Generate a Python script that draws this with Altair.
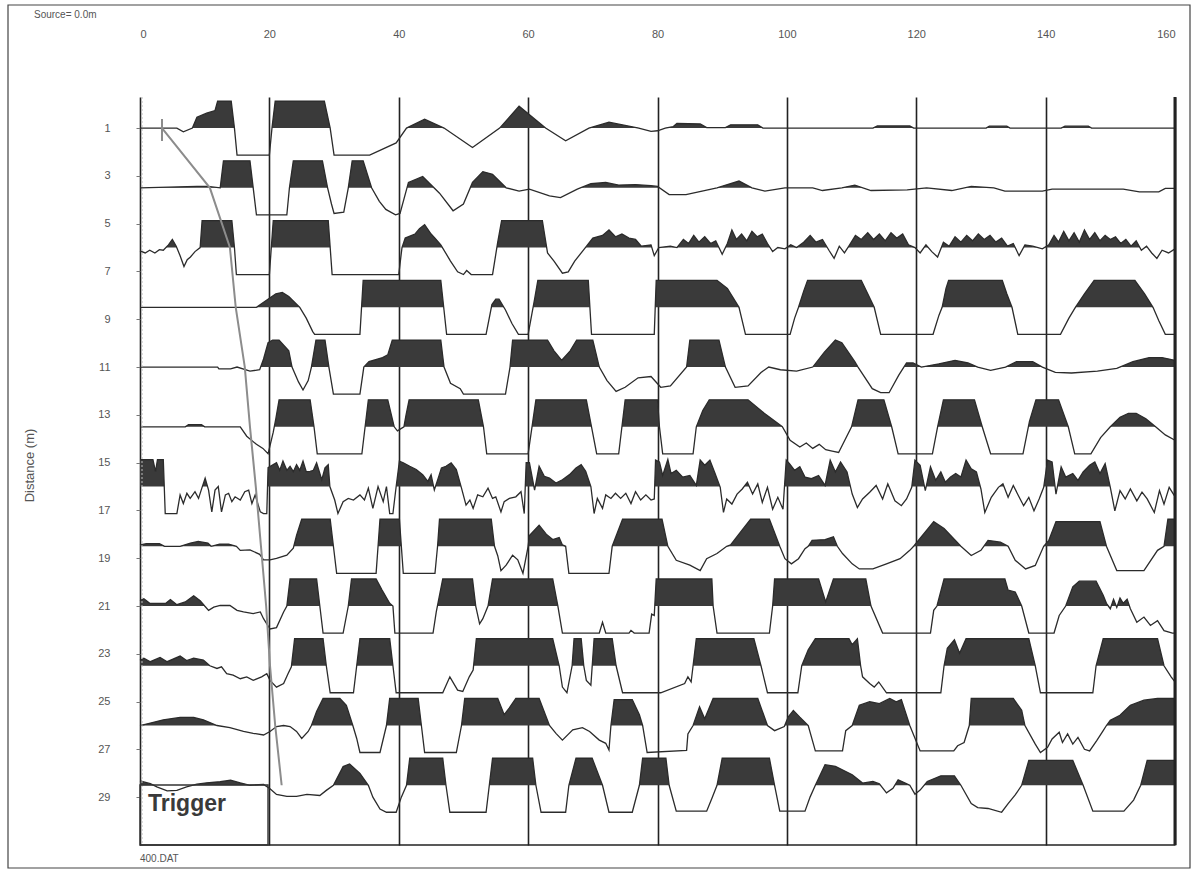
import altair as alt
import pandas as pd

# ---------------- data read from the record ----------------
TIME_TICKS = [0, 20, 40, 60, 80, 100, 120, 140, 160]
DIST_TICKS = [1, 3, 5, 7, 9, 11, 13, 15, 17, 19, 21, 23, 25, 27, 29]
OFFSETS = [1, 3.5, 6, 8.5, 11, 13.5, 16, 18.5, 21, 23.5, 26, 28.5]

# (time ms, normalised amplitude; +/-1 = clip level)
TRACE_01 = [(0, 0), (5.7, 0), (6.7, -0.14), (8.1, 0), (8.8, 0.4), (10.3, 0.55), (11.6, 0.65), (12.0, 1), (14.1, 1),
            (14.6, 0), (15.0, -1), (20.0, -1), (20.4, 0), (20.9, 1), (28.5, 1), (29.4, 0), (30.0, -1), (35.5, -1),
            (39.6, -0.55), (41.2, 0), (44.0, 0.33), (47.0, 0), (51.4, -0.72), (55.6, 0), (58.6, 0.81), (62.7, 0),
            (65.8, -0.47), (69.4, 0), (72.5, 0.22), (77.1, 0), (79.0, -0.12), (80.0, -0.1), (81.2, 0), (82.4, 0.05),
            (83.0, 0.17), (86.6, 0.15), (87.6, 0.02), (90.5, 0.02), (91.3, 0.12), (95.5, 0.12), (96.3, 0), (113.3, 0),
            (114.0, 0.08), (119.0, 0.08), (119.6, 0), (130.8, 0), (131.3, 0.07), (134.0, 0.07), (134.5, 0),
            (142.4, 0), (143.0, 0.07), (146.6, 0.07), (147.1, 0), (160, 0)]

TRACE_02 = [(0, 0), (8.8, 0.05), (10.5, 0.05), (12.4, 0), (12.9, 1), (17.0, 1), (17.5, 0), (18.0, -1), (22.7, -1),
            (23.1, 0), (23.7, 1), (28.2, 1), (29.0, 0), (29.6, -0.6), (30.0, -0.95), (31.5, -0.9), (32.2, 0),
            (32.8, 1), (34.5, 1), (35.8, 0), (37.0, -0.5), (38.0, -0.8), (39.5, -1), (40.2, -0.95), (41.5, 0.2),
            (43.7, 0.42), (46.3, -0.2), (48.4, -0.85), (50.0, -0.6), (51.4, 0.2), (53.0, 0.6), (54.5, 0.5),
            (56.6, 0), (58.6, -0.12), (60.2, -0.05), (63.3, -0.3), (65.0, -0.36), (67.6, -0.05), (69.7, 0.15),
            (72.0, 0.2), (74.0, 0.1), (76.6, 0.12), (79.0, 0.08), (80.0, 0.05), (81.8, -0.25), (84.4, -0.25),
            (89.2, 0), (92.6, 0.25), (94.6, 0), (96.6, -0.12), (99.7, 0), (104.0, 0), (105.5, -0.1), (108.5, 0),
            (110.5, 0.1), (113.0, -0.1), (118.6, -0.08), (121.6, 0), (125.5, -0.1), (128.5, 0.05), (132.0, 0),
            (133.7, -0.12), (139.5, -0.12), (141.0, -0.05), (152.0, -0.05), (154.5, -0.15), (157.5, -0.15),
            (158.5, -0.02), (160, -0.02)]

TRACE_03 = [(0, -0.12), (0.8, -0.2), (1.5, -0.1), (2.3, -0.2), (3.0, -0.08), (3.6, -0.1), (4.4, 0.1), (5.0, 0.3),
            (5.6, 0.05), (6.2, -0.3), (6.8, -0.7), (7.3, -0.45), (7.8, -0.35), (8.5, -0.15), (9.3, 0), (9.6, 1),
            (14.2, 1), (14.6, 0), (14.9, -1), (20.0, -1), (20.3, 0), (20.6, 1), (29.1, 1), (29.4, 0), (29.7, -1),
            (40.0, -1), (40.5, 0), (41.0, 0.35), (42.5, 0.5), (43.2, 0.7), (44.0, 0.85), (45.0, 0.5), (45.6, 0.35),
            (46.5, 0.1), (48.0, -0.5), (49.1, -0.9), (50.0, -1), (50.5, -0.85), (51.2, -1), (54.5, -1), (55.3, 0.2),
            (55.9, 1), (62.2, 1), (63.0, -0.2), (64.0, -0.5), (65.3, -0.95), (66.2, -0.9), (67.2, -0.5),
            (68.7, -0.05), (70.0, 0.35), (71.5, 0.45), (72.5, 0.65), (73.5, 0.4), (74.5, 0.5), (75.6, 0.35),
            (76.6, 0.3), (77.5, 0.05), (79.0, 0.1), (79.5, -0.3), (80.2, 0.0), (82.0, 0.05), (83.0, 0.0),
            (84.0, 0.3), (84.8, 0.15), (85.6, 0.45), (86.4, 0.2), (87.3, 0.4), (88.2, 0.15), (89.0, 0.25),
            (90.0, -0.25), (90.8, 0.15), (91.5, 0.65), (92.2, 0.3), (93.0, 0.5), (93.8, 0.25), (94.6, 0.6),
            (95.4, 0.4), (96.2, 0.5), (97.0, 0.15), (97.8, -0.15), (98.6, 0), (99.7, -0.05), (100.6, 0.1),
            (101.5, 0), (102.6, 0.2), (103.6, 0.45), (104.5, 0.2), (105.5, 0.3), (106.5, -0.1), (107.3, -0.4),
            (108.1, 0.05), (108.9, -0.2), (109.7, 0.1), (110.6, 0.45), (111.5, 0.3), (112.5, 0.55), (113.4, 0.3),
            (114.3, 0.5), (115.2, 0.25), (116.1, 0.55), (117.0, 0.35), (117.9, 0.5), (118.8, 0.1), (119.8, 0),
            (120.6, -0.2), (121.5, 0.1), (122.4, -0.15), (123.3, -0.35), (124.2, 0.2), (125.1, 0.05), (126.0, 0.4),
            (126.9, 0.2), (127.8, 0.45), (128.7, 0.25), (129.6, 0.5), (130.5, 0.3), (131.4, 0.45), (132.3, 0.2),
            (133.2, 0.35), (134.1, 0.05), (135.0, 0.15), (135.9, -0.3), (136.8, 0.1), (138.0, 0.05), (139.5, -0.05),
            (140.5, 0.1), (141.3, 0.45), (142.0, 0.2), (142.8, 0.6), (143.6, 0.25), (144.4, 0.55), (145.2, 0.2),
            (146.0, 0.65), (146.8, 0.3), (147.6, 0.55), (148.4, 0.25), (149.2, 0.45), (150.0, 0.3), (150.8, 0.4),
            (151.6, 0.15), (152.4, 0.3), (153.2, 0.05), (154.0, 0.25), (154.8, -0.1), (155.6, 0.05), (156.4, -0.2),
            (157.2, -0.4), (158.0, -0.1), (159.0, -0.2), (160, -0.05)]

TRACE_04 = [(0, 0), (18.0, 0), (19.5, 0.25), (21.0, 0.5), (22.0, 0.55), (23.0, 0.4), (24.7, 0), (25.7, -0.4),
            (26.7, -0.9), (27.0, -1), (34.0, -1), (34.5, 1), (46.5, 1), (47.4, -1), (53.5, -1), (54.4, 0.1),
            (55.0, 0.3), (55.5, 0.3), (56.5, -0.1), (57.5, -0.6), (58.5, -1), (60.0, -1), (61.0, 0.3), (61.5, 1),
            (69.3, 1), (69.8, -1), (79.0, -1), (79.5, -1), (79.8, 1), (89.2, 1), (90.8, 0.7), (92.6, 0), (93.6, -1),
            (100.5, -1), (101.2, -0.4), (101.8, 0), (102.6, 0.6), (103.2, 1), (111.5, 1), (112.5, 0.5), (113.5, 0),
            (114.5, -1), (122.6, -1), (123.5, -0.3), (124.0, 0), (124.6, 0.7), (125.0, 1), (133.3, 1), (134.0, 0.5),
            (134.8, 0), (135.7, -1), (142.3, -1), (143.6, -0.4), (144.6, 0), (146.0, 0.5), (147.5, 1), (153.8, 1),
            (155.3, 0.5), (156.6, 0), (157.5, -0.5), (158.5, -1), (160, -1)]

TRACE_05 = [(0, 0), (12.0, 0), (12.2, -0.07), (14.0, -0.07), (15.0, 0), (17.0, -0.15), (18.5, -0.1), (19.1, 0.3),
            (19.8, 0.9), (20.5, 1), (21.5, 1), (23.0, 0.6), (23.5, 0), (24.5, -0.55), (25.2, -0.85), (26.0, -0.5),
            (26.5, 0), (27.2, 1), (28.6, 1), (29.2, 0), (29.9, -1), (34.0, -1), (34.6, 0), (35.4, 0.2), (37.5, 0.35),
            (38.3, 0.45), (39.0, 1), (46.5, 1), (47.0, 0), (48.0, -0.6), (49.5, -0.8), (50.0, -1), (56.5, -1),
            (57.2, 0), (57.6, 1), (63.0, 1), (64.0, 0.6), (65.2, 0.25), (66.5, 0.6), (67.5, 1), (70.0, 1), (71.0, 0),
            (72.2, -0.5), (73.6, -0.9), (75.0, -0.75), (77.0, -0.4), (79.0, -0.35), (80.5, -0.75), (82.0, -0.7),
            (84.5, 0), (85.0, 1), (89.5, 1), (90.5, 0), (92.0, -0.75), (94.0, -0.7), (96.0, -0.2), (97.2, 0),
            (99.0, -0.1), (101.5, -0.15), (104.0, 0), (105.8, 0.55), (107.5, 1), (108.5, 0.9), (110.5, 0.2),
            (111.0, 0), (113.2, -0.8), (114.5, -0.95), (115.8, -0.95), (117.3, -0.3), (118.5, 0.15), (119.5, 0.15),
            (120.8, 0), (123.5, 0.12), (126.0, 0.25), (128.0, 0.15), (129.5, 0), (131.5, -0.12), (133.8, 0),
            (135.5, 0.2), (138.0, 0.2), (139.5, 0), (141.5, -0.2), (144.0, -0.22), (148.0, -0.15), (151.0, -0.05),
            (153.5, 0.2), (156.0, 0.35), (158.0, 0.35), (160, 0.25)]

TRACE_06 = [(0, 0), (7.0, 0), (7.5, 0.08), (9.5, 0.08), (10.0, 0), (15.5, 0), (16.5, -0.35), (18.0, -0.65),
            (19.0, -0.8), (19.8, -1), (20.6, -0.2), (21.0, 0.3), (21.5, 1), (26.3, 1), (26.9, 0), (27.4, -1),
            (34.3, -1), (34.8, 0), (35.3, 1), (38.3, 1), (39.3, 0), (39.8, -0.15), (40.8, 0), (41.1, 0.4), (41.6, 1),
            (52.3, 1), (53.1, 0), (53.6, -1), (60.0, -1), (60.6, 0), (61.2, 1), (69.0, 1), (69.8, 0), (70.6, -1),
            (74.0, -1), (74.5, 0), (75.0, 1), (80.0, 1), (80.3, 0), (80.8, -1), (85.5, -1), (86.0, 0), (87.0, 0.6),
            (88.0, 1), (94.0, 1), (96.5, 0.5), (99.3, 0), (100.5, -0.5), (102.0, -0.75), (103.0, -0.6),
            (104.0, -0.8), (105.0, -0.65), (106.0, -0.85), (107.0, -0.9), (108.0, -0.95), (110.0, 0), (111.0, 1),
            (115.0, 1), (116.2, 0), (117.2, -1), (122.5, -1), (123.3, 0), (124.2, 1), (129.0, 1), (130.2, 0),
            (131.5, -1), (136.5, -1), (137.5, 0.2), (138.5, 1), (142.0, 1), (143.5, 0), (144.5, -1), (147.0, -1),
            (148.5, -0.4), (150.0, 0), (151.5, 0.35), (152.8, 0.5), (154.0, 0.5), (155.5, 0.3), (157.0, 0),
            (158.5, -0.3), (160, -0.5)]

TRACE_07 = [(0, 1.0), (2.0, 1.0), (2.4, 0.55), (2.7, 1.0), (3.6, 1.0), (3.9, -1.0), (5.7, -1.0), (6.2, -0.31),
            (6.7, -0.63), (7.25, -0.25), (7.76, -0.44), (8.5, -0.19), (9.05, -0.44), (9.56, -0.06), (10.07, 0.31),
            (10.6, -0.13), (11.1, -0.94), (11.6, -0.13), (12.1, 0.0), (12.6, -0.94), (13.2, -0.31), (13.7, -0.25),
            (14.2, -0.56), (14.7, -0.38), (15.5, -0.5), (16.2, -0.19), (16.8, -0.13), (17.3, -0.63), (17.8, -0.31),
            (18.6, -0.94), (19.1, -1), (19.6, -1), (19.8, 0.7), (21.1, 0.88), (21.6, 0.6), (22.1, 0.94), (22.7, 0.6),
            (23.2, 0.75), (23.7, 0.55), (24.2, 0.81), (24.7, 0.6), (25.2, 0.94), (25.7, 0.55), (26.3, 0.56),
            (26.8, 0.6), (27.3, 0.88), (28.1, 0.25), (28.6, 0.69), (29.1, 0.81), (29.35, 0), (30.1, -0.5),
            (30.6, -1), (31.4, -0.56), (32.2, -0.44), (33.0, -0.5), (34.0, -0.31), (34.7, -0.5), (35.3, -0.06),
            (36.0, -0.81), (36.8, 0.0), (37.6, -0.56), (38.1, 0.0), (38.6, -1), (39.1, -1), (39.6, 0), (40.1, 0.94),
            (40.7, 0.88), (41.7, 0.75), (42.7, 0.63), (43.7, 0.44), (44.5, 0.19), (45.0, 0.44), (45.5, -0.13),
            (46.1, 0.31), (46.6, 0.69), (47.3, 0.75), (48.1, 0.88), (48.9, 0.63), (49.7, -0.06), (50.4, -0.69),
            (51.0, -0.5), (51.5, -0.81), (52.2, -0.31), (53.0, -0.38), (53.8, -0.06), (54.5, -0.44), (55.0, -0.38),
            (55.8, -0.94), (56.3, -0.56), (57.1, -0.44), (58.1, -0.38), (58.9, -0.19), (59.4, -1), (59.7, 0.88),
            (60.2, 0.88), (61.0, -0.13), (61.7, 0.75), (62.5, 0.38), (63.3, 0.31), (64.3, 0.13), (65.3, 0.25),
            (66.4, 0.44), (67.4, 0.69), (68.2, 0.81), (68.9, 0.56), (69.7, 0.0), (70.2, -1), (70.7, -0.44),
            (71.5, -0.81), (72.0, -0.31), (72.8, -0.44), (73.5, -0.25), (74.3, -0.44), (75.1, -0.25), (75.9, -0.63),
            (76.6, -0.19), (77.4, -0.5), (78.2, -0.31), (79.0, -0.5), (79.5, -0.46), (79.7, 0.98), (80.3, 0.91),
            (80.8, 0.41), (81.6, 1.0), (82.1, 0.48), (82.9, 0.6), (83.9, 0.35), (85.0, 0.41), (86.0, 0.04),
            (86.6, 0.98), (87.3, 0.79), (88.1, 0.98), (88.9, 0.48), (89.7, -0.03), (90.2, -0.96), (90.7, -0.46),
            (91.5, -0.65), (92.3, -0.28), (93.1, -0.09), (93.9, 0.16), (94.7, -0.28), (95.5, 0.1), (96.2, -0.59),
            (97.0, -0.03), (97.8, -0.84), (98.6, -0.4), (99.4, -0.84), (99.9, 0.98), (100.4, 0.85), (101.2, 0.6),
            (102.0, 0.73), (102.8, 0.35), (103.8, 0.29), (104.9, 0.41), (105.9, 0.04), (106.7, 0.98), (107.5, 0.54),
            (108.3, 0.91), (109.3, 0.54), (110.1, -0.28), (110.9, -0.78), (111.7, -0.46), (112.8, -0.21),
            (113.8, 0.04), (114.8, -0.46), (115.6, 0.1), (116.7, -0.53), (117.7, -0.71), (118.5, -0.46),
            (119.3, -0.03), (119.8, 0.98), (120.6, 0.79), (121.4, -0.15), (122.2, 0.73), (123.0, 0.23), (123.8, 0.54),
            (124.5, 0.16), (125.3, 0.35), (126.1, 0.48), (126.9, 0.35), (127.7, 0.98), (128.5, 0.66), (129.3, 0.54),
            (130.0, -0.09), (130.6, -0.96), (131.6, -0.4), (132.7, -0.03), (133.4, 0.1), (134.2, -0.4), (135.0, 0.04),
            (135.8, -0.34), (136.6, -0.71), (137.4, -0.4), (138.2, -0.9), (139.0, -0.46), (139.7, -0.03),
            (140.3, 0.98), (141.0, 0.91), (141.6, -0.28), (142.4, 0.73), (143.1, 0.35), (144.2, 0.48), (145.0, 0.23),
            (145.8, 0.54), (146.8, 0.79), (147.6, 0.91), (148.4, 0.48), (149.2, 0.85), (150.0, -0.03), (150.7, -0.9),
            (151.5, -0.15), (152.3, -0.46), (153.1, -0.09), (154.1, -0.53), (154.9, -0.21), (155.7, -0.46),
            (156.8, -0.96), (157.6, -0.15), (158.3, -0.65), (159.1, -0.03), (159.9, -0.34)]

TRACE_08 = [(0, 0.05), (1.0, 0.1), (3.0, 0.1), (3.8, 0), (6.2, 0), (7.8, 0.12), (9.0, 0.18), (10.5, 0.12), (11.0, 0),
            (12.3, 0.08), (13.7, 0.08), (14.9, 0), (15.5, -0.15), (17.0, -0.13), (18.5, -0.3), (19.1, -0.5),
            (20.1, -0.5), (21.1, -0.45), (22.7, -0.33), (23.7, -0.07), (24.2, 0.4), (25.0, 1), (29.4, 1), (29.9, 0),
            (30.4, -1), (36.5, -1), (36.8, 0), (37.1, 1), (40.1, 1), (40.4, 0), (40.7, -1), (45.6, -1), (46.0, 0),
            (46.3, 1), (54.3, 1), (54.8, 0), (55.3, -0.35), (55.8, -0.9), (56.6, -0.7), (57.6, -0.33), (58.4, -0.5),
            (59.2, -1), (60.0, 0), (60.2, 0.4), (61.7, 0.78), (62.8, 0.45), (63.8, 0.25), (64.8, 0.32), (65.3, 0.05),
            (65.8, 0), (66.3, -1), (72.5, -1), (73.0, 0), (74.6, 1), (80.7, 1), (81.6, 0), (82.9, -0.52),
            (85.0, -0.7), (86.6, -0.9), (87.6, -0.46), (89.2, -0.27), (90.7, 0), (91.3, 0.05), (93.4, 0.7),
            (94.4, 1), (97.3, 1), (98.9, 0), (99.7, -0.46), (100.7, -0.65), (101.8, -0.46), (102.8, -0.09),
            (103.3, 0), (103.9, 0.22), (105.9, 0.25), (107.2, 0.35), (107.8, 0), (108.6, -0.27), (110.1, -0.65),
            (111.2, -0.84), (113.3, -0.84), (115.4, -0.65), (117.5, -0.46), (119.0, -0.15), (119.6, 0), (122.7, 0.91),
            (124.3, 0.66), (126.9, 0), (128.5, -0.34), (130.0, -0.15), (131.1, 0.22), (133.0, 0.15), (134.2, 0),
            (135.3, -0.52), (136.9, -0.84), (138.4, -0.71), (139.7, 0), (140.5, 0.22), (141.6, 0.91), (148.4, 0.91),
            (149.4, 0), (151.0, -0.9), (155.2, -0.9), (157.3, -0.15), (158.3, 0), (158.9, 1), (160, 1)]

TRACE_09 = [(0, 0.2), (0.6, 0.27), (1.5, 0.1), (4.0, 0.1), (4.7, 0.24), (5.7, 0.05), (7.0, 0.15), (8.3, 0.38),
            (9.3, 0.2), (10.0, 0), (10.6, -0.16), (11.4, -0.04), (12.4, 0.02), (13.9, 0.02), (15.0, -0.16),
            (16.0, -0.22), (17.5, -0.28), (18.6, -0.22), (19.1, -0.47), (19.6, -0.66), (20.1, -0.85), (21.1, -0.8),
            (22.2, -0.22), (22.7, 0), (23.2, 1), (27.3, 1), (27.8, 0), (28.3, -1), (31.4, -1), (32.2, 0), (32.7, 1),
            (36.5, 1), (37.4, 0.6), (38.6, 0.1), (39.1, 0), (39.4, -1), (45.3, -1), (45.8, -0.22), (46.8, 1),
            (51.4, 1), (51.9, 0), (52.5, -0.66), (53.0, -0.47), (53.8, 0), (54.5, 1), (63.8, 1), (64.6, 0),
            (65.3, -1), (71.0, -1), (71.5, -0.6), (72.0, -1), (75.6, -1), (75.9, -0.9), (76.4, -1), (78.7, -1),
            (79.1, -0.3), (79.5, -0.35), (79.8, 1), (88.4, 1), (88.6, 0), (89.2, -1), (97.3, -1), (97.8, 0),
            (98.1, 1), (104.9, 1), (106.0, 0.15), (107.2, 1), (112.2, 1), (113.0, 0), (114.8, -1), (122.2, -1),
            (122.7, -0.16), (123.2, 0), (124.3, 1), (133.7, 1), (134.2, 0.59), (135.3, 0.52), (136.3, 0),
            (137.4, -1), (141.3, -1), (142.1, -0.35), (143.1, 0), (144.2, 0.71), (145.2, 0.92), (147.8, 0.92),
            (148.9, 0.4), (149.4, 0.1), (150.0, -0.1), (150.5, 0.25), (151.0, -0.05), (151.5, 0.3), (152.0, 0.1),
            (152.6, 0.25), (153.1, -0.1), (154.1, -0.6), (155.2, -0.41), (156.2, -0.72), (157.3, -0.54),
            (158.3, -0.91), (159.6, -1), (160, -1)]

TRACE_10 = [(0, 0.2), (0.6, 0.28), (1.6, 0.15), (3.1, 0.31), (4.2, 0.15), (6.2, 0.36), (7.2, 0.19), (8.3, 0.28),
            (9.8, 0.21), (10.8, 0), (11.9, -0.1), (12.6, -0.04), (13.4, -0.29), (14.4, -0.35), (15.5, -0.48),
            (16.5, -0.41), (17.5, -0.54), (18.8, -0.41), (19.6, -0.29), (20.1, -0.54), (21.1, -0.79), (22.2, -0.66),
            (22.9, -0.29), (23.4, -0.04), (23.9, 1), (28.3, 1), (28.8, 0), (29.4, -1), (33.0, -1), (33.5, 0),
            (34.0, 1), (38.6, 1), (39.1, 0), (39.6, -1), (46.8, -1), (47.9, -0.41), (49.1, -0.9), (49.9, -0.95),
            (50.9, -0.41), (51.5, -0.16), (52.0, 1), (63.8, 1), (64.8, 0), (65.3, -0.79), (66.0, -1), (66.8, 0),
            (67.1, 1), (68.2, 1), (68.6, 0), (69.0, -0.54), (69.7, -0.72), (70.2, 1), (73.0, 1), (73.6, 0),
            (74.6, -1), (80.5, -1), (84.2, -0.66), (84.7, -0.41), (85.2, -0.6), (85.5, 0), (86.0, 1), (94.9, 1),
            (96.0, 0), (97.0, -1), (101.7, -1), (102.3, 0), (103.3, 0.59), (104.4, 1), (109.6, 1), (110.1, 0.78),
            (110.9, 1), (111.4, 0), (111.7, -0.41), (112.8, -0.66), (113.5, -0.79), (114.2, -0.6), (115.4, -1),
            (123.8, -1), (124.3, 0), (124.8, 0.65), (125.9, 0.96), (126.7, 0.46), (127.7, 1), (137.4, 1),
            (138.4, 0), (139.2, -1), (147.3, -1), (147.8, 0), (148.9, 1), (157.3, 1), (158.3, 0), (159.4, -0.41),
            (160, -0.6)]

TRACE_11 = [(0, 0), (1.6, 0.09), (3.6, 0.21), (6.2, 0.3), (8.3, 0.3), (9.8, 0.21), (11.9, 0), (13.9, -0.08),
            (16.0, -0.22), (17.5, -0.29), (19.1, -0.35), (20.1, -0.22), (21.1, -0.04), (22.2, 0), (23.2, -0.04),
            (24.2, -0.22), (25.0, -0.48), (26.0, -0.22), (26.5, 0), (27.3, 0.52), (28.3, 1), (30.9, 1), (31.9, 0.75),
            (32.9, 0), (33.5, -0.48), (34.0, -1), (37.1, -1), (38.1, 0), (38.6, 1), (43.0, 1), (43.5, 0), (44.0, -1),
            (48.9, -1), (49.7, 0), (50.2, 1), (55.3, 1), (56.3, 0.4), (57.1, 0.65), (58.1, 1), (61.7, 1), (63.3, 0),
            (64.3, -0.29), (65.3, -0.54), (66.9, -0.16), (68.4, -0.08), (69.5, -0.22), (71.0, -0.54), (72.0, -0.66),
            (72.5, -0.91), (72.8, 0), (73.3, 0.96), (76.1, 0.96), (77.2, 0.4), (77.7, 0), (78.4, -1), (84.5, -0.92),
            (84.7, -0.31), (85.5, 0), (86.5, 0.69), (87.3, 0.25), (88.6, 1), (95.5, 1), (97.0, 0), (98.1, -0.19),
            (99.6, -0.04), (100.2, 0.31), (101.0, 0.56), (102.0, 0.31), (103.3, 0), (104.4, -0.94), (108.6, -0.94),
            (109.1, -0.19), (110.1, 0), (111.2, 0.75), (112.8, 0.88), (114.3, 0.81), (115.9, 1), (116.9, 0.88),
            (117.7, 0.96), (119.0, 0), (120.6, -0.94), (125.8, -0.94), (126.4, -0.75), (127.4, -0.63), (128.2, 0),
            (128.5, 1), (135.0, 1), (136.3, 0.56), (136.8, 0), (138.4, -0.69), (139.2, -1), (140.3, -0.81),
            (141.0, -0.5), (142.1, -0.25), (142.6, -0.63), (143.4, -0.31), (144.2, -0.69), (145.0, -0.44),
            (146.0, -0.88), (146.8, -0.94), (147.9, -0.56), (148.9, -0.19), (149.4, 0), (150.0, 0.19), (151.5, 0.38),
            (153.1, 0.75), (155.2, 0.94), (157.3, 1), (160, 1)]

TRACE_12 = [(0, 0.16), (1.6, 0.06), (2.6, -0.06), (4.2, -0.21), (5.7, -0.19), (7.2, -0.06), (8.8, 0.04), (10.3, 0.09),
            (12.4, 0.13), (14.0, 0.19), (15.5, 0.09), (17.0, 0), (19.1, 0.03), (20.1, -0.13), (21.1, -0.34),
            (22.7, -0.41), (24.2, -0.41), (25.8, -0.34), (27.8, -0.38), (28.8, -0.19), (29.9, 0), (31.4, 0.69),
            (32.4, 0.79), (34.0, 0.44), (35.3, 0), (36.0, -0.44), (37.1, -0.88), (38.1, -1), (39.6, -1),
            (40.4, -0.44), (41.2, 0), (41.7, 1), (46.8, 1), (47.3, 0), (47.9, -1), (53.5, -1), (54.0, 0), (54.5, 1),
            (60.7, 1), (61.2, 0), (62.0, -1), (65.8, -1), (66.3, 0), (67.4, 1), (69.9, 1), (71.5, 0), (72.5, -1),
            (76.1, -1), (77.2, 0), (77.7, 1), (81.3, 1), (81.8, 0), (82.9, -0.96), (87.6, -0.96), (88.4, -0.49),
            (89.2, 0), (90.0, 1), (97.3, 1), (98.1, 0), (98.9, -0.96), (102.8, -0.96), (103.6, -0.43), (104.4, 0),
            (105.9, 0.76), (107.5, 0.7), (110.1, 0.39), (111.7, 0.08), (113.3, 0.14), (114.3, 0.05), (115.4, -0.28),
            (116.4, -0.11), (117.2, 0.2), (118.3, 0.08), (119.0, 0), (119.8, -0.33), (120.6, -0.18), (121.7, 0.14),
            (123.8, 0.35), (125.9, 0.35), (126.9, 0), (128.5, -0.68), (129.5, -0.83), (131.1, -0.86), (133.2, -1),
            (134.2, -0.68), (135.3, -0.36), (136.3, 0), (137.4, 0.92), (144.2, 0.92), (145.8, 0), (147.3, -0.96),
            (152.1, -0.96), (153.6, -0.55), (154.7, 0), (155.7, 0.92), (160, 0.92)]

TRACES = [TRACE_01, TRACE_02, TRACE_03, TRACE_04, TRACE_05, TRACE_06,
          TRACE_07, TRACE_08, TRACE_09, TRACE_10, TRACE_11, TRACE_12]

# first-break picks (time ms) on each trace
PICK_T = [3.4, 10.8, 13.9, 14.8, 16.2, 17.0, 17.9, 18.7, 19.5, 20.1, 20.9, 21.9]

HEADER_TEXT = "Source= 0.0m"
FOOTER_TEXT = "400.DAT"
TRIGGER_TEXT = "Trigger"

CLIP = 1.13  # clip amplitude expressed in distance units (trace gain)

# ---------------- build tables ----------------
line_rows, fill_rows = [], []
for i, (off, tr) in enumerate(zip(OFFSETS, TRACES)):
    for t, a in tr:
        line_rows.append({"trace": i, "t": t, "d": off - a * CLIP})
    prev = None
    for t, a in tr:
        if prev is not None:
            t0, a0 = prev
            if (a0 > 0 > a) or (a0 < 0 < a):
                tc = t0 + (t - t0) * a0 / (a0 - a)
                fill_rows.append({"trace": i, "t": tc, "d": off, "base": off})
        fill_rows.append({"trace": i, "t": t, "d": off - max(a, 0) * CLIP, "base": off})
        prev = (t, a)

lines = pd.DataFrame(line_rows)
fills = pd.DataFrame(fill_rows)
picks = pd.DataFrame({"t": PICK_T, "d": OFFSETS})
one = pd.DataFrame({"k": [0]})

W, H = 1035, 748
xs = alt.Scale(domain=[0, 160], nice=False, zero=False)
ys = alt.Scale(domain=[-0.3, 31.0], reverse=True, nice=False, zero=False)

AX_X = alt.Axis(orient="top", values=TIME_TICKS, grid=True, gridColor="#222222", gridWidth=1.6, gridOpacity=1,
                domain=False, ticks=False, labelPadding=58, labelFontSize=11, labelColor="#555555",
                labelFont="Liberation Sans", title=None)
AX_Y = alt.Axis(values=DIST_TICKS, grid=False, domain=False, ticks=True, tickSize=4, tickColor="#777777",
                labelPadding=26, labelFontSize=11, labelColor="#555555", labelFont="Liberation Sans",
                title="Distance (m)", titleFont="Liberation Sans", titleFontSize=13, titleFontWeight="normal",
                titleColor="#555555", titleX=-104, titleY=368, titleAngle=270)

X = alt.X("t:Q", scale=xs, axis=AX_X)
Y = alt.Y("d:Q", scale=ys, axis=AX_Y)

INK = "#2b2b2b"

fill_layer = alt.Chart(fills).mark_area(color="#3a3a3a", opacity=1, interpolate="linear").encode(
    x=X, y=Y, y2="base:Q", detail="trace:N",
)

line_layer = alt.Chart(lines).mark_line(color=INK, strokeWidth=1.3).encode(
    x=X, y=Y, detail="trace:N",
)

pick_line = alt.Chart(picks).mark_line(color="#8c8c8c", strokeWidth=2).encode(
    x=X, y=Y, order="d:Q",
)

pick_cross = alt.Chart(picks.iloc[:1]).mark_rule(color="#8c8c8c", strokeWidth=2).encode(
    x=X, y=alt.value(22), y2=alt.value(44),
)

# plot frame: bottom, right and faint left edge
frame_bottom = alt.Chart(one).mark_rule(color="#222222", strokeWidth=1.6).encode(
    x=alt.value(0), x2=alt.value(W), y=alt.value(H))
frame_right = alt.Chart(one).mark_rule(color="#222222", strokeWidth=3).encode(
    x=alt.value(W), y=alt.value(0), y2=alt.value(H))
frame_left = alt.Chart(one).mark_rule(color="#bbbbbb", strokeWidth=1, strokeDash=[2, 2]).encode(
    x=alt.value(2), y=alt.value(0), y2=alt.value(H))

# outer page border
border = alt.Chart(one).mark_rect(fill=None, stroke="#444444", strokeWidth=1.2).encode(
    x=alt.value(-132), x2=alt.value(1050), y=alt.value(-92), y2=alt.value(771))

# trigger box + label
trig_box = alt.Chart(one).mark_rect(fill=None, stroke="#333333", strokeWidth=1.4).encode(
    x=alt.value(0), x2=alt.value(128), y=alt.value(688), y2=alt.value(H))
trig_text = alt.Chart(pd.DataFrame({"txt": [TRIGGER_TEXT]})).mark_text(
    align="left", baseline="middle", font="Liberation Sans", fontSize=23, fontWeight="bold", color="#3a3a3a"
).encode(x=alt.value(8), y=alt.value(707), text="txt:N")

header = alt.Chart(pd.DataFrame({"txt": [HEADER_TEXT]})).mark_text(
    align="left", baseline="middle", font="Liberation Sans", fontSize=10, color="#555555"
).encode(x=alt.value(-106), y=alt.value(-82), text="txt:N")

footer = alt.Chart(pd.DataFrame({"txt": [FOOTER_TEXT]})).mark_text(
    align="left", baseline="middle", font="Liberation Sans", fontSize=10, color="#555555"
).encode(x=alt.value(0), y=alt.value(762), text="txt:N")

chart = alt.layer(
    fill_layer, line_layer, pick_line, pick_cross,
    frame_bottom, frame_right, frame_left, border, trig_box, trig_text, header, footer
).properties(
    width=W, height=H,
    autosize=alt.AutoSizeParams(type="none"),
    padding={"left": 140, "top": 97, "right": 20, "bottom": 28},
    background="white",
).configure_view(stroke=None)

chart.save("out.html", embed_options={"renderer": "svg", "actions": False})
